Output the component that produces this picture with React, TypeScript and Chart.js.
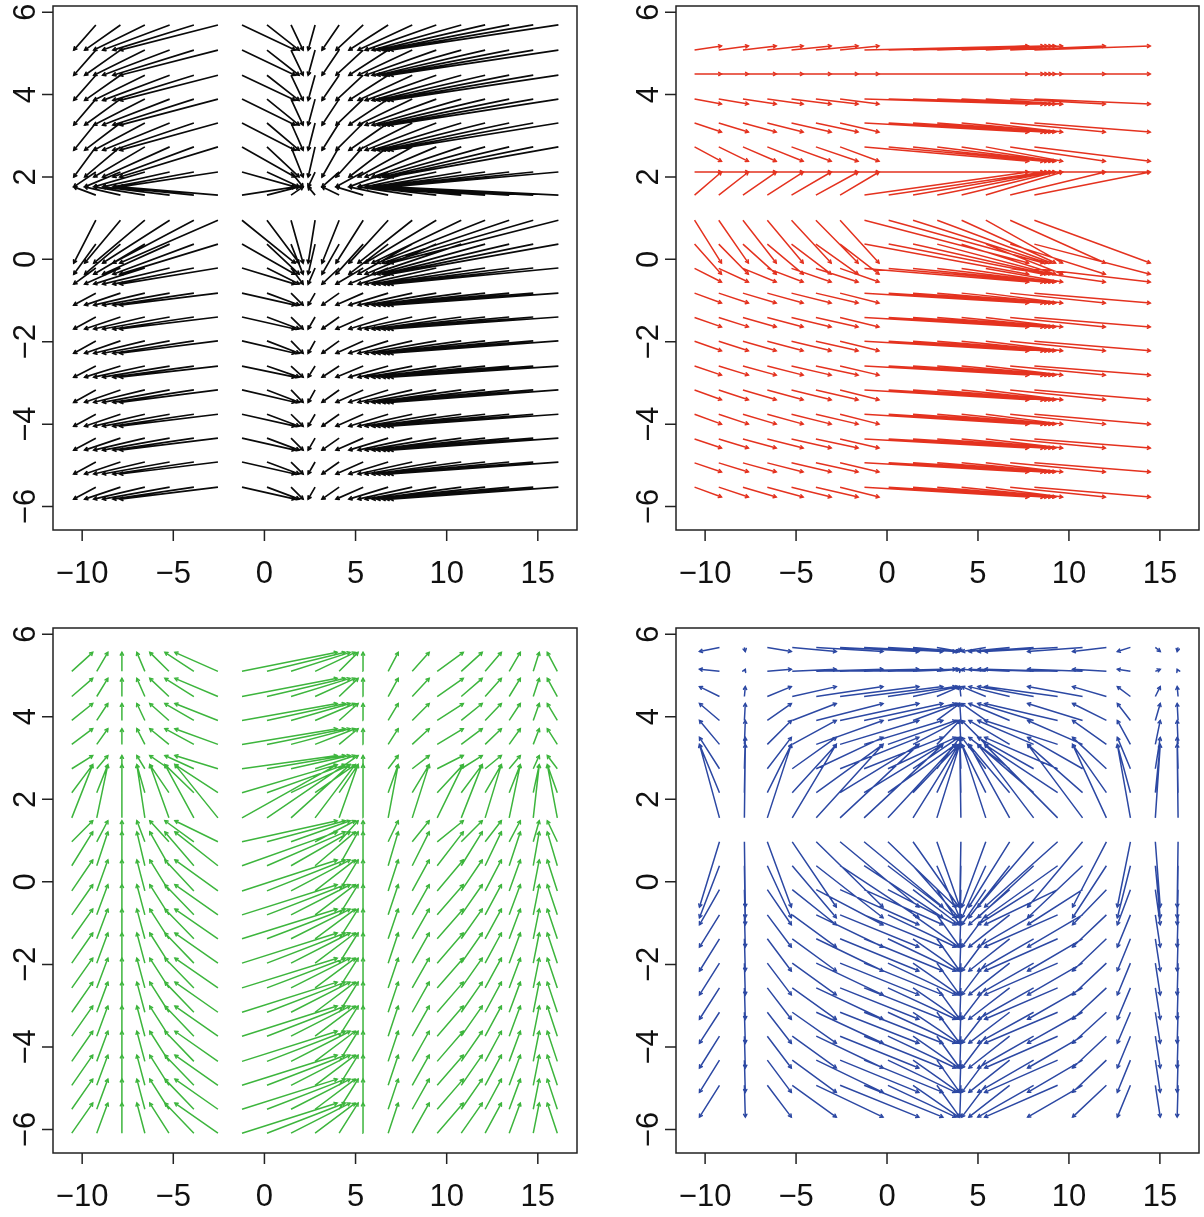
import React, { useEffect, useRef } from "react";
import { Chart, registerables } from "chart.js";

Chart.register(...registerables);

// ---------- Panel 1 (black) ----------
const blackTailX = [-9.25, -7.9, -6.56, -5.2, -3.87, -2.55, -1.23, 0.14, 1.46, 2.78, 4.1, 5.42, 6.79, 8.11, 9.43, 10.8, 12.11, 13.43, 14.75, 16.13];
const blackHeadX = [-10.46, -9.86, -9.36, -8.87, -8.31, -7.93, 1.68, 1.9, 2.12, 2.4, 3.16, 3.93, 4.64, 5.14, 5.53, 5.91, 6.18, 6.46, 6.68, 6.9];
const blackTailY = [5.69, 5.08, 4.47, 3.89, 3.31, 2.73, 2.12, 1.56, 0.95, 0.37, -0.21, -0.82, -1.4, -1.98, -2.59, -3.17, -3.76, -4.34, -4.92, -5.53];
const blackHeadY = [5.08, 4.47, 3.86, 3.26, 2.65, 2.0, 1.76, 1.76, -0.09, -0.36, -0.6, -1.11, -1.69, -2.28, -2.86, -3.47, -4.05, -4.63, -5.21, -5.82];

// ---------- Panel 2 (red) ----------
const redTailX = [-10.58, -9.25, -7.92, -6.58, -5.25, -3.91, -2.58, -1.24, 0.09, 1.43, 2.76, 4.1, 5.43, 6.77, 8.1];
const redHeadX = [-9.1, -7.62, -6.09, -4.61, -3.07, -1.59, -0.44, 7.78, 8.61, 8.83, 9.05, 9.27, 9.65, 12.0, 14.47];
const redTailY = [5.08, 4.5, 3.89, 3.31, 2.73, 2.12, 1.56, 0.95, 0.37, -0.22, -0.82, -1.41, -1.99, -2.59, -3.17, -3.76, -4.36, -4.94, -5.53];
const redHeadY = [5.18, 4.5, 3.77, 3.09, 2.38, 2.12, 2.12, -0.09, -0.36, -0.55, -1.06, -1.64, -2.22, -2.81, -3.41, -4.0, -4.58, -5.16, -5.77];

// ---------- Panel 3 (green) ----------
const greenTailX = [-10.57, -9.2, -7.82, -6.56, -5.24, -3.87, -2.55, -1.23, 0.14, 1.46, 2.78, 4.1, 5.42, 6.79, 8.11, 9.48, 10.8, 12.11, 13.43, 14.75, 16.07];
const greenHeadX = [-9.42, -8.59, -7.82, -7.0, -6.29, -5.46, -4.91, 3.99, 4.43, 4.7, 4.98, 5.14, 5.41, 7.34, 9.04, 10.91, 11.95, 13.0, 14.04, 15.08, 15.52];
const greenTailY = [5.1, 4.49, 3.91, 3.33, 2.74, 2.16, 1.55, 0.97, 0.39, -0.22, -0.8, -1.38, -1.97, -2.57, -3.16, -3.74, -4.35, -4.93, -5.51, -6.09];
const greenHeadY = [5.56, 4.93, 4.32, 3.71, 3.06, 2.84, 2.84, 1.48, 1.21, 0.53, -0.07, -0.66, -1.24, -1.85, -2.43, -3.01, -3.62, -4.2, -4.78, -5.36];

// ---------- Panel 4 (blue) ----------
const blueTailX = [-9.21, -7.84, -6.58, -5.21, -3.89, -2.58, -1.26, 0.05, 1.43, 2.74, 4.06, 5.43, 6.74, 8.06, 9.38, 10.75, 12.06, 13.38, 14.75, 16.0];
const blueHeadX = [-10.31, -7.79, -5.26, -2.79, -0.22, 1.75, 3.07, 3.78, 3.95, 4.0, 4.0, 4.11, 4.5, 4.99, 5.37, 7.73, 10.2, 12.66, 15.02, 15.95];
const blueTailY = [5.68, 5.1, 4.49, 3.91, 3.33, 2.74, 2.16, 1.55, 0.97, 0.39, -0.19, -0.8, -1.38, -1.97, -2.57, -3.16, -3.74, -4.32, -4.93];
const blueHeadY = [5.58, 5.15, 4.73, 4.32, 3.91, 3.5, 3.33, 3.33, -0.61, -0.87, -1.04, -1.58, -2.16, -2.74, -3.33, -3.91, -4.51, -5.1, -5.7];

// ---------- Axes ----------
const xTickValues = [-10, -5, 0, 5, 10, 15];
const yTickValues = [-6, -4, -2, 0, 2, 4, 6];
const xLimits = [-11.6, 17.15];
const yLimits = [-6.57, 6.15];

const FONT = '31px "Liberation Sans", Arial, Helvetica, sans-serif';

function fmt(v: number) {
  return v < 0 ? "\u2212" + Math.abs(v) : String(v);
}

function buildSegments(tailX: number[], tailY: number[], headX: number[], headY: number[]) {
  const pts: any[] = [];
  for (let j = 0; j < tailY.length; j++) {
    for (let i = 0; i < tailX.length; i++) {
      pts.push({ x: tailX[i], y: tailY[j] });
      pts.push({ x: headX[i], y: headY[j] });
      pts.push({ x: null, y: null });
    }
  }
  return pts;
}

const arrowHeadPlugin = {
  id: "arrowHeads",
  afterDatasetsDraw(chart: any) {
    const ctx = chart.ctx;
    chart.data.datasets.forEach((ds: any, di: number) => {
      const els = chart.getDatasetMeta(di).data;
      ctx.save();
      ctx.strokeStyle = ds.borderColor;
      ctx.lineWidth = ds.borderWidth;
      ctx.lineCap = "round";
      ctx.beginPath();
      for (let k = 0; k + 1 < els.length; k += 3) {
        const t = els[k];
        const h = els[k + 1];
        const dx = h.x - t.x;
        const dy = h.y - t.y;
        const len = Math.hypot(dx, dy);
        if (!(len > 0.5)) continue;
        const ang = Math.atan2(dy, dx);
        const L = 3.2;
        const A = Math.PI / 6;
        ctx.moveTo(h.x - L * Math.cos(ang - A), h.y - L * Math.sin(ang - A));
        ctx.lineTo(h.x, h.y);
        ctx.lineTo(h.x - L * Math.cos(ang + A), h.y - L * Math.sin(ang + A));
      }
      ctx.stroke();
      ctx.restore();
    });
  },
};

const rAxesPlugin = {
  id: "rAxes",
  afterDraw(chart: any) {
    const { ctx, chartArea: a, scales } = chart;
    const xs = scales.x;
    const ys = scales.y;
    ctx.save();
    ctx.strokeStyle = "#222";
    ctx.lineWidth = 1.5;
    ctx.strokeRect(a.left, a.top, a.right - a.left, a.bottom - a.top);
    ctx.fillStyle = "#111";
    ctx.font = FONT;
    ctx.textAlign = "center";
    ctx.textBaseline = "middle";
    ctx.beginPath();
    for (const v of xTickValues) {
      const px = xs.getPixelForValue(v);
      ctx.moveTo(px, a.bottom);
      ctx.lineTo(px, a.bottom + 11);
    }
    for (const v of yTickValues) {
      const py = ys.getPixelForValue(v);
      ctx.moveTo(a.left, py);
      ctx.lineTo(a.left - 11, py);
    }
    ctx.stroke();
    for (const v of xTickValues) {
      const px = xs.getPixelForValue(v);
      ctx.fillText(fmt(v), px, a.bottom + 44);
    }
    for (const v of yTickValues) {
      const py = ys.getPixelForValue(v);
      ctx.save();
      ctx.translate(a.left - 27, py);
      ctx.rotate(-Math.PI / 2);
      ctx.fillText(fmt(v), 0, 0);
      ctx.restore();
    }
    ctx.restore();
  },
};

type PanelProps = {
  tailX: number[];
  tailY: number[];
  headX: number[];
  headY: number[];
  color: string;
  lw: number;
  left: number;
  top: number;
  width: number;
  height: number;
  pad: { left: number; right: number; top: number; bottom: number };
};

function Panel(p: PanelProps) {
  const ref = useRef<HTMLCanvasElement | null>(null);
  useEffect(() => {
    if (!ref.current) return;
    const chart = new Chart(ref.current, {
      type: "scatter",
      data: {
        datasets: [
          {
            data: buildSegments(p.tailX, p.tailY, p.headX, p.headY),
            showLine: true,
            spanGaps: false,
            borderColor: p.color,
            backgroundColor: p.color,
            borderWidth: p.lw,
            pointRadius: 0,
            pointHoverRadius: 0,
          } as any,
        ],
      },
      options: {
        animation: false,
        responsive: false,
        maintainAspectRatio: false,
        events: [],
        layout: { padding: p.pad },
        plugins: { legend: { display: false }, tooltip: { enabled: false } },
        scales: {
          x: { type: "linear", min: xLimits[0], max: xLimits[1], display: false },
          y: { type: "linear", min: yLimits[0], max: yLimits[1], display: false },
        },
      },
      plugins: [arrowHeadPlugin, rAxesPlugin],
    });
    return () => chart.destroy();
  }, []);
  return (
    <canvas
      ref={ref}
      width={p.width}
      height={p.height}
      style={{ position: "absolute", left: p.left, top: p.top, width: p.width, height: p.height }}
    />
  );
}

export default function App() {
  const topPad = { left: 0, right: 0, top: 6, bottom: 80 };
  const botPad = { left: 0, right: 0, top: 18, bottom: 64 };
  return (
    <div style={{ position: "absolute", left: 0, top: 0, width: 1204, height: 1217, background: "#fff" }}>
      <Panel tailX={blackTailX} tailY={blackTailY} headX={blackHeadX} headY={blackHeadY} color="#0a0a0a" lw={1.7}
        left={0} top={0} width={601} height={610} pad={{ ...topPad, left: 53, right: 24 }} />
      <Panel tailX={redTailX} tailY={redTailY} headX={redHeadX} headY={redHeadY} color="#E4321F" lw={1.5}
        left={601} top={0} width={603} height={610} pad={{ ...topPad, left: 75, right: 5 }} />
      <Panel tailX={greenTailX} tailY={greenTailY} headX={greenHeadX} headY={greenHeadY} color="#3DB53D" lw={1.5}
        left={0} top={610} width={601} height={607} pad={{ ...botPad, left: 53, right: 24 }} />
      <Panel tailX={blueTailX} tailY={blueTailY} headX={blueHeadX} headY={blueHeadY} color="#2C48A3" lw={1.5}
        left={601} top={610} width={603} height={607} pad={{ ...botPad, left: 75, right: 5 }} />
    </div>
  );
}
